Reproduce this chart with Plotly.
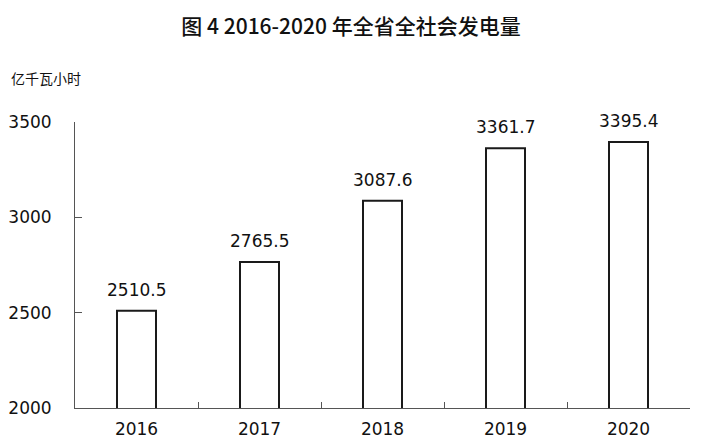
import plotly.graph_objects as go

years = ["2016", "2017", "2018", "2019", "2020"]
power = [2510.5, 2765.5, 3087.6, 3361.7, 3395.4]
y_ticks = [2000, 2500, 3000, 3500]

num_font = "DejaVu Sans"

fig = go.Figure()
fig.add_trace(go.Bar(
    x=years, y=power, width=0.317,
    marker=dict(color="white", line=dict(color="#1a1a1a", width=2)),
    cliponaxis=False,
))

# value labels above the bars (category index as x)
for i, v in enumerate(power):
    fig.add_annotation(x=i, y=v, text=f"{v:.1f}", showarrow=False, yanchor="bottom", yshift=9,
                       font=dict(family=num_font, size=17, color="#111"))

fig.add_annotation(text="亿千瓦小时", xref="paper", yref="paper", x=-0.108, y=1.154,
                   xanchor="left", yanchor="middle", showarrow=False,
                   font=dict(family="Noto Sans CJK SC", size=14, color="#111"))

fig.update_layout(
    title=dict(text="图 4 2016-2020 年全省全社会发电量", x=0.4886, xanchor="center", y=0.959, yanchor="middle",
               font=dict(family="Noto Sans CJK SC", size=21, color="#111", weight=500)),
    width=702, height=446,
    margin=dict(l=67, r=20, t=114, b=46),
    plot_bgcolor="white", paper_bgcolor="white",
    showlegend=False,
)
fig.update_xaxes(type="category", range=[-0.5, len(years) - 0.5], showline=True, linecolor="#555",
                 linewidth=1, ticks="inside", tickson="boundaries", ticklen=6, tickcolor="#555",
                 showgrid=False, automargin=False, ticklabelstandoff=6,
                 tickfont=dict(family=num_font, size=17, color="#111"))
fig.update_yaxes(range=[2000, 3500], tickvals=y_ticks, showline=True, linecolor="#555", linewidth=1,
                 ticks="inside", ticklen=7, tickcolor="#555", showgrid=False, zeroline=False,
                 automargin=False, ticklabelstandoff=19,
                 tickfont=dict(family=num_font, size=17, color="#111"))

fig.write_html("out.html")
